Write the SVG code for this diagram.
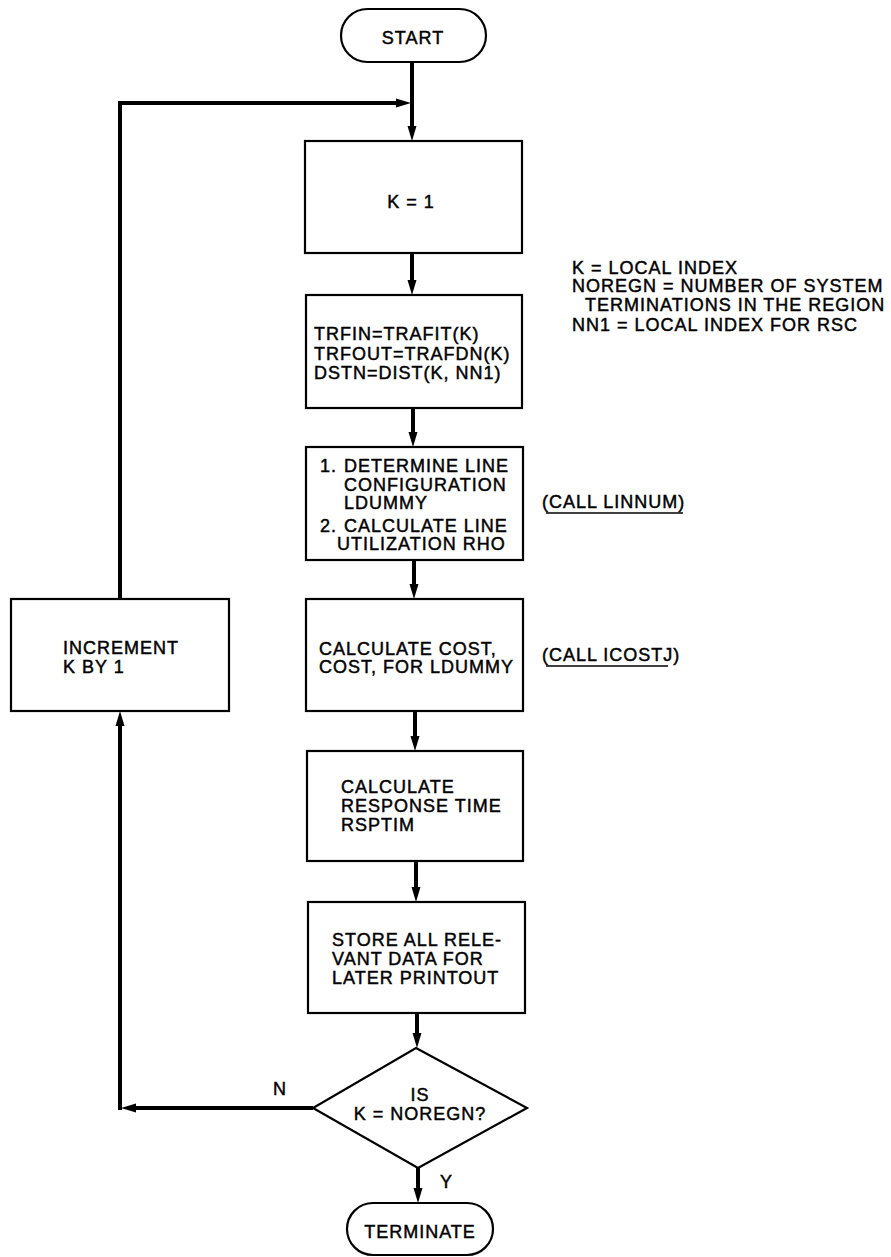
<svg xmlns="http://www.w3.org/2000/svg" width="891" height="1257" viewBox="0 0 891 1257">
<style>
.box{fill:#fff;stroke:#000;stroke-width:2.2}
.t{font-family:"Liberation Sans",Arial,Helvetica,sans-serif;font-size:18px;letter-spacing:1px;fill:#000;stroke:#000;stroke-width:0.45}
.c{text-anchor:middle}
.con{fill:none;stroke:#000;stroke-width:4}
.ul{stroke:#000;stroke-width:1.5}
</style>
<defs>
<marker id="ah" markerUnits="userSpaceOnUse" markerWidth="15" markerHeight="10" refX="8" refY="5" orient="auto">
<path d="M0,0.5 L15,5 L0,9.5 z" fill="#000"/>
</marker>
</defs>
<rect width="891" height="1257" fill="#fff"/>
<g id="connectors">
<path class="con" d="M412,62 V134" marker-end="url(#ah)"/>
<path class="con" d="M120,599 V103 H404" marker-end="url(#ah)"/>
<path class="con" d="M412,253 V288" marker-end="url(#ah)"/>
<path class="con" d="M413,408 V440" marker-end="url(#ah)"/>
<path class="con" d="M414,560 V592" marker-end="url(#ah)"/>
<path class="con" d="M415,711 V744" marker-end="url(#ah)"/>
<path class="con" d="M416,861 V895" marker-end="url(#ah)"/>
<path class="con" d="M417,1013 V1041" marker-end="url(#ah)"/>
<path class="con" d="M313,1108 H128" marker-end="url(#ah)"/>
<path class="con" d="M120,1110 V718" marker-end="url(#ah)"/>
<path class="con" d="M418,1168 V1196" marker-end="url(#ah)"/>
</g>
<g id="start">
<rect class="box" x="341" y="9" width="145" height="53" rx="26.5"/>
<text class="t c" x="413" y="44">START</text>
</g>
<g id="init">
<rect class="box" x="305" y="141" width="217" height="112"/>
<text class="t c" x="411" y="208">K = 1</text>
</g>
<g id="traffic">
<rect class="box" x="306" y="295" width="216" height="113"/>
<text class="t" x="314" y="340">TRFIN=TRAFIT(K)</text>
<text class="t" x="314" y="360">TRFOUT=TRAFDN(K)</text>
<text class="t" x="314" y="379">DSTN=DIST(K, NN1)</text>
</g>
<g id="linnum">
<rect class="box" x="306" y="447" width="217" height="113"/>
<text class="t" x="320" y="472">1.</text>
<text class="t" x="344" y="472">DETERMINE LINE</text>
<text class="t" x="344" y="491">CONFIGURATION</text>
<text class="t" x="344" y="509">LDUMMY</text>
<text class="t" x="320" y="532">2.</text>
<text class="t" x="344" y="532">CALCULATE LINE</text>
<text class="t" x="337" y="550">UTILIZATION RHO</text>
</g>
<g id="cost">
<rect class="box" x="306" y="599" width="217" height="112"/>
<text class="t" x="319" y="655">CALCULATE COST,</text>
<text class="t" x="319" y="673">COST, FOR LDUMMY</text>
</g>
<g id="response">
<rect class="box" x="307" y="751" width="216" height="110"/>
<text class="t" x="341" y="793">CALCULATE</text>
<text class="t" x="341" y="812">RESPONSE TIME</text>
<text class="t" x="341" y="831">RSPTIM</text>
</g>
<g id="store">
<rect class="box" x="308" y="902" width="217" height="111"/>
<text class="t" x="332" y="946">STORE ALL RELE-</text>
<text class="t" x="332" y="965">VANT DATA FOR</text>
<text class="t" x="332" y="984">LATER PRINTOUT</text>
</g>
<g id="decision">
<polygon class="box" points="416,1048 527,1108 418,1168 313,1108"/>
<text class="t c" x="420" y="1101">IS</text>
<text class="t c" x="420" y="1120">K = NOREGN?</text>
</g>
<g id="increment">
<rect class="box" x="11" y="599" width="218" height="112"/>
<text class="t" x="63" y="654">INCREMENT</text>
<text class="t" x="63" y="673">K BY 1</text>
</g>
<g id="terminate">
<rect class="box" x="347" y="1203" width="146" height="52" rx="26"/>
<text class="t c" x="420" y="1238">TERMINATE</text>
</g>
<g id="labels">
<text class="t" x="273" y="1095">N</text>
<text class="t" x="440" y="1188">Y</text>
<text class="t" x="542" y="508">(CALL LINNUM)</text>
<line class="ul" x1="546" y1="513" x2="683" y2="513"/>
<text class="t" x="542" y="661">(CALL ICOSTJ)</text>
<line class="ul" x1="546" y1="666" x2="668" y2="666"/>
</g>
<g id="legend">
<text class="t" x="572" y="274">K = LOCAL INDEX</text>
<text class="t" x="572" y="292">NOREGN = NUMBER OF SYSTEM</text>
<text class="t" x="585" y="311">TERMINATIONS IN THE REGION</text>
<text class="t" x="572" y="331">NN1 = LOCAL INDEX FOR RSC</text>
</g>
</svg>
